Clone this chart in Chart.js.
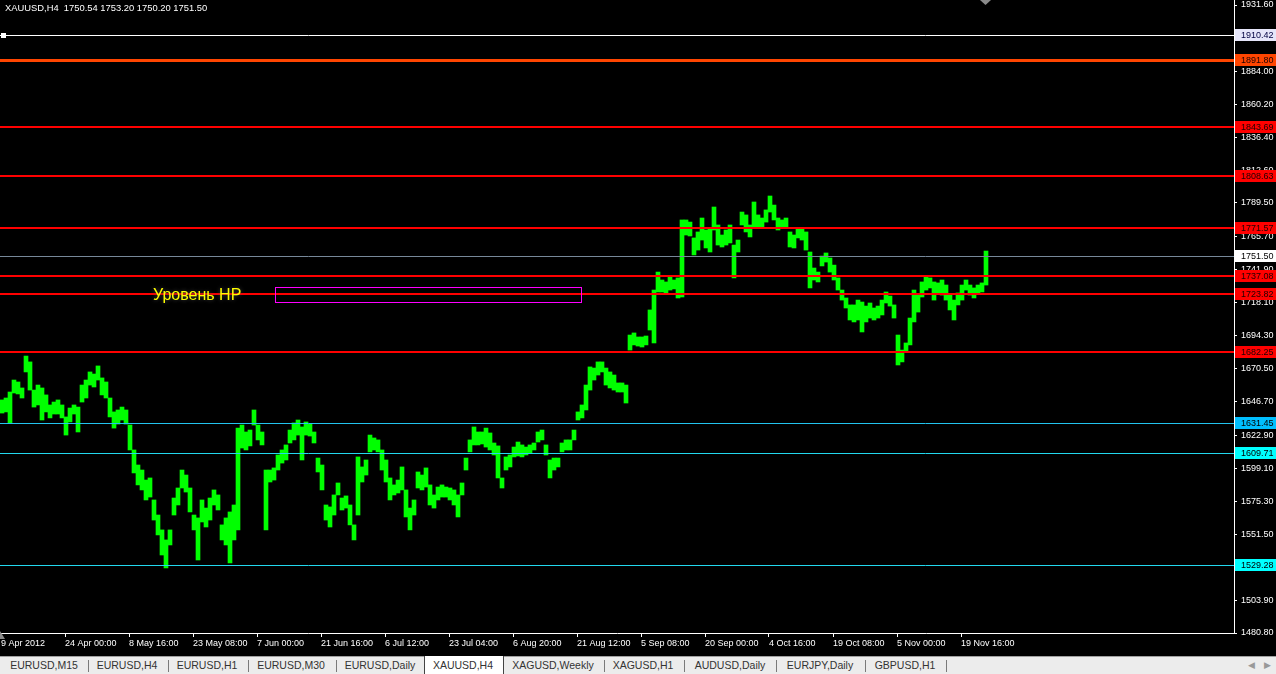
<!DOCTYPE html>
<html>
<head>
<meta charset="utf-8">
<script src="https://cdn.jsdelivr.net/npm/chart.js@4.4.1/dist/chart.umd.min.js"></script>
<style>
  html,body{margin:0;padding:0;background:#000;width:1276px;height:674px;overflow:hidden;font-family:"Liberation Sans",Arial,sans-serif;}
  #wrap{position:absolute;left:0;top:0;width:1276px;height:656px;}
  #tabs{position:absolute;left:0;top:656px;width:1276px;height:18px;background:#ececec;border-top:1px solid #a0a0a0;box-sizing:border-box;}
  .tab{position:absolute;top:0;height:18px;line-height:17px;font-size:10.5px;color:#333;transform:translateX(-50%);white-space:nowrap;}
  .sep{position:absolute;top:3px;width:1px;height:12px;background:#7a7a7a;}
  #active{position:absolute;left:424px;top:-1px;width:80px;height:19px;background:#fff;border-left:1px solid #444;border-right:1px solid #444;box-sizing:border-box;}
  .arr{position:absolute;top:0;line-height:17px;font-size:9px;color:#999;}
</style>
</head>
<body>
<div id="wrap"><canvas id="c" width="1276" height="656"></canvas></div>
<div id="tabs"></div>
<script>
// ---------- data ----------
const symbolTitle = "XAUUSD,H4  1750.54 1753.20 1750.20 1751.50";
const barsPerPoint = 4;
const highs = [
1648.1,1649.5,1653.8,1662.4,1661.0,1656.7,1679.6,1675.4,1655.2,1658.8,
1656.7,1651.7,1644.5,1646.6,1648.1,1644.5,1635.9,1642.3,1644.5,1643.0,
1658.8,1662.4,1668.2,1666.7,1672.5,1663.9,1661.0,1649.5,1639.5,1640.9,
1643.0,1640.9,1630.1,1612.2,1601.4,1597.8,1590.6,1592.1,1576.3,1565.5,
1554.8,1547.6,1554.8,1577.7,1584.9,1597.8,1594.2,1584.9,1565.5,1563.4,
1576.3,1570.5,1577.7,1583.5,1579.9,1558.4,1563.4,1567.7,1572.7,1627.9,
1630.1,1625.1,1626.5,1640.9,1630.1,1625.1,1597.8,1597.8,1599.3,1608.6,
1612.2,1615.8,1626.5,1631.6,1633.7,1628.7,1632.3,1630.8,1625.1,1606.4,
1601.4,1572.7,1571.3,1579.9,1588.5,1577.7,1579.2,1572.7,1558.4,1607.2,
1600.0,1605.0,1622.9,1620.8,1619.4,1612.2,1605.0,1592.1,1587.1,1590.6,
1600.0,1583.5,1570.5,1576.3,1596.4,1594.2,1599.3,1587.1,1579.9,1585.6,
1587.1,1585.6,1584.9,1583.5,1579.9,1588.5,1606.4,1619.4,1628.7,1625.1,
1625.1,1627.9,1624.4,1617.2,1615.1,1592.1,1607.2,1608.6,1614.3,1617.9,
1615.8,1614.3,1615.8,1617.2,1625.1,1626.5,1615.8,1605.0,1606.4,1606.4,
1617.2,1619.4,1619.4,1626.5,1639.5,1644.5,1658.8,1671.8,1671.0,1675.4,
1675.4,1671.0,1668.2,1666.0,1660.3,1660.3,1658.8,1694.7,1696.2,1693.3,
1693.3,1694.0,1712.7,1727.0,1739.9,1734.2,1732.8,1736.4,1734.2,1735.7,
1777.3,1777.3,1775.8,1764.4,1768.7,1778.7,1770.1,1771.5,1786.6,1773.7,
1766.5,1770.1,1773.7,1759.3,1762.9,1783.0,1780.9,1773.7,1790.2,1780.9,
1778.7,1784.5,1794.5,1788.0,1778.7,1777.3,1778.7,1768.7,1766.5,1771.5,
1771.5,1768.7,1754.3,1742.8,1739.9,1751.4,1753.6,1750.0,1744.9,1735.7,
1727.0,1721.3,1716.3,1716.3,1719.8,1718.4,1715.5,1717.7,1714.1,1715.5,
1719.8,1725.6,1722.7,1716.3,1694.7,1683.9,1689.0,1706.9,1727.0,1723.4,
1732.8,1736.4,1735.7,1732.8,1732.1,1734.2,1730.6,1723.4,1719.8,1724.9,
1730.6,1734.2,1730.6,1728.5,1730.6,1732.1,1755.0
];
const lows = [
1638.7,1639.5,1631.6,1653.1,1652.4,1649.5,1668.2,1655.2,1643.0,1644.5,
1633.7,1639.5,1635.2,1638.0,1638.0,1635.2,1622.9,1632.3,1638.0,1625.1,
1646.6,1649.5,1658.8,1657.4,1662.4,1651.7,1649.5,1635.9,1627.9,1630.8,
1633.7,1630.8,1612.2,1595.7,1587.1,1583.5,1576.3,1578.4,1561.9,1551.2,
1536.8,1527.5,1544.0,1565.5,1572.7,1584.9,1582.0,1567.7,1554.8,1533.2,
1560.5,1556.9,1561.9,1572.7,1569.1,1547.6,1544.0,1531.1,1547.6,1554.8,
1613.6,1612.2,1615.1,1630.1,1619.4,1615.8,1554.8,1589.2,1590.6,1597.8,
1602.8,1605.0,1617.2,1619.4,1622.9,1605.0,1622.9,1622.2,1617.2,1596.4,
1583.5,1561.9,1556.9,1565.5,1579.9,1569.1,1570.5,1558.4,1547.6,1565.5,
1589.2,1594.2,1610.8,1612.2,1610.8,1597.8,1589.2,1576.3,1579.9,1581.3,
1583.5,1564.1,1554.8,1565.5,1584.9,1583.5,1585.6,1572.7,1570.5,1576.3,
1578.4,1578.4,1576.3,1572.7,1564.1,1579.9,1597.8,1610.8,1615.8,1615.8,
1616.5,1614.3,1612.2,1608.6,1592.1,1584.9,1597.8,1600.0,1607.2,1607.9,
1607.2,1608.6,1610.0,1612.2,1617.9,1619.4,1608.6,1592.1,1597.8,1600.0,
1610.8,1612.2,1612.2,1619.4,1633.7,1635.2,1640.9,1655.2,1662.4,1666.0,
1668.2,1658.8,1656.7,1655.2,1653.8,1653.8,1645.9,1683.9,1687.6,1686.8,
1686.1,1687.6,1698.3,1689.0,1725.6,1725.6,1724.9,1727.0,1727.8,1721.3,
1722.0,1766.5,1765.8,1752.2,1755.7,1762.9,1757.2,1754.3,1770.1,1759.3,
1757.9,1759.3,1760.8,1735.7,1754.3,1773.7,1768.7,1765.1,1772.3,1771.5,
1771.5,1775.8,1783.0,1777.3,1770.1,1771.5,1771.5,1757.9,1757.2,1764.4,
1762.9,1755.7,1728.5,1734.2,1732.8,1744.3,1747.1,1739.9,1734.2,1727.0,
1719.8,1714.1,1705.5,1704.1,1705.5,1696.9,1704.1,1706.9,1705.5,1706.9,
1709.1,1717.7,1715.5,1706.9,1673.2,1675.4,1682.5,1687.6,1704.1,1711.2,
1722.0,1727.0,1728.5,1719.8,1724.2,1723.4,1719.8,1712.7,1705.5,1716.3,
1719.8,1727.0,1723.4,1721.3,1724.9,1725.6,1730.6
];
const dateLabels = ["9 Apr 2012","24 Apr 00:00","8 May 16:00","23 May 08:00","7 Jun 00:00","21 Jun 16:00","6 Jul 12:00","23 Jul 04:00","6 Aug 20:00","21 Aug 12:00","5 Sep 08:00","20 Sep 00:00","4 Oct 16:00","19 Oct 08:00","5 Nov 00:00","19 Nov 16:00"];
const barsPerDateLabel = 64;
const priceTicks = [1931.60,1907.80,1884.00,1860.20,1836.40,1812.60,1789.50,1765.70,1741.90,1718.10,1694.30,1670.50,1646.70,1622.90,1599.10,1575.30,1551.50,1527.70,1503.90,1480.80];
const levelValues = [1910.42,1891.80,1843.69,1808.63,1771.57,1751.50,1737.08,1723.82,1682.25,1631.45,1609.71,1529.28];
const levelKinds  = ["white","orange","red","red","red","price","red","red","red","blue","cyan","cyan"];
const noteText = "Уровень НР";
const notePrice = 1722.7, noteBar = 153;
const boxBars = [275, 581];
const boxPrices = [1728.9, 1718.6];
const tabNames = ["EURUSD,M15","EURUSD,H4","EURUSD,H1","EURUSD,M30","EURUSD,Daily","XAUUSD,H4","XAGUSD,Weekly","XAGUSD,H1","AUDUSD,Daily","EURJPY,Daily","GBPUSD,H1"];

// ---------- styles ----------
const kindStyle = {
  white:{line:"#ffffff",w:1,bg:"#e6e6fa",fg:"#000040"},
  orange:{line:"#ff4500",w:3,bg:"#ff4500",fg:"#200000"},
  red:{line:"#ff0000",w:2,bg:"#ff0000",fg:"#200000"},
  price:{line:"#778899",w:1,bg:"#ffffff",fg:"#000000"},
  blue:{line:"#22c4ee",w:1,bg:"#00bfff",fg:"#000000"},
  cyan:{line:"#22d8ee",w:1,bg:"#00ffff",fg:"#000000"}
};
const FONT = '9px "Liberation Sans", Arial, sans-serif';

// ---------- tabs (HTML) ----------
const tabCenters=[44,127,207,291,380,463,553,643,730,820,905];
const sepX=[88,168,248,336,604,684,776,865,946];
const tabsEl=document.getElementById('tabs');
tabsEl.insertAdjacentHTML('beforeend','<div id="active"></div>');
sepX.forEach(x=>tabsEl.insertAdjacentHTML('beforeend',`<div class="sep" style="left:${x}px"></div>`));
tabNames.forEach((t,i)=>tabsEl.insertAdjacentHTML('beforeend',`<div class="tab" style="left:${tabCenters[i]}px">${t}</div>`));
tabsEl.insertAdjacentHTML('beforeend','<div class="arr" style="left:1248px">&#9664;</div><div class="arr" style="left:1264px">&#9654;</div>');

// ---------- overlay plugin ----------
const overlay = {
  id:'overlay',
  afterDatasetsDraw(chart){
    const {ctx, chartArea:a, scales:{x,y}} = chart;
    ctx.save();
    levelValues.forEach((v,i)=>{
      const s=kindStyle[levelKinds[i]];
      let py=Math.round(y.getPixelForValue(v));
      if(s.w%2===1) py+=0.5;
      ctx.strokeStyle=s.line; ctx.lineWidth=s.w;
      ctx.beginPath(); ctx.moveTo(a.left,py); ctx.lineTo(a.right,py); ctx.stroke();
    });
    // handle on the selected line
    const hy=Math.round(y.getPixelForValue(levelValues[0]));
    ctx.fillStyle="#ffffff"; ctx.fillRect(1,hy-2,5,5);
    // magenta rectangle (edges as 1px fills)
    const rx1=Math.round(x.getPixelForValue(boxBars[0])), rx2=Math.round(x.getPixelForValue(boxBars[1]));
    const ry1=Math.round(y.getPixelForValue(boxPrices[0])), ry2=Math.round(y.getPixelForValue(boxPrices[1]));
    ctx.fillStyle="#ff00ff";
    ctx.fillRect(rx1,ry1,rx2-rx1+1,1);
    ctx.fillRect(rx1,ry2,rx2-rx1+1,1);
    ctx.fillRect(rx1,ry1,1,ry2-ry1+1);
    ctx.fillRect(rx2,ry1,1,ry2-ry1+1);
    // text
    ctx.font='16px "Liberation Sans", Arial, sans-serif';
    ctx.textBaseline='middle'; ctx.textAlign='left';
    ctx.shadowColor='rgba(80,80,80,0.9)'; ctx.shadowBlur=4;
    ctx.fillStyle="#ffff00";
    ctx.fillText(noteText, x.getPixelForValue(noteBar), y.getPixelForValue(notePrice));
    ctx.restore();
  },
  afterDraw(chart){
    const {ctx, chartArea:a, scales:{x,y}} = chart;
    ctx.save();
    ctx.font=FONT; ctx.textBaseline='middle'; ctx.textAlign='left';
    levelValues.forEach((v,i)=>{
      const s=kindStyle[levelKinds[i]];
      const py=Math.round(y.getPixelForValue(v));
      ctx.fillStyle=s.bg; ctx.fillRect(a.right+1,py-6,1276-a.right-1,12);
      ctx.fillStyle=s.fg; ctx.fillText(v.toFixed(2), a.right+7, py+0.5);
    });
    // header
    ctx.fillStyle="#ffffff";
    ctx.font='9.4px "Liberation Sans", Arial, sans-serif';
    ctx.fillText(symbolTitle, 5, 8);
    // shift marker triangle
    ctx.fillStyle="#8a8a8a";
    ctx.beginPath(); ctx.moveTo(980,0); ctx.lineTo(991,0); ctx.lineTo(985.5,5); ctx.closePath(); ctx.fill();
    // bottom-left marker
    ctx.beginPath(); ctx.moveTo(0,631); ctx.lineTo(0,639); ctx.lineTo(5,639); ctx.closePath(); ctx.fill();
    ctx.restore();
  }
};

// ---------- chart ----------
const points = highs.map((h,i)=>({x:i*barsPerPoint+barsPerPoint/2, y:[lows[i],h]}));

new Chart(document.getElementById('c'),{
  type:'bar',
  data:{datasets:[{data:points, backgroundColor:'#00ff00', borderWidth:0, barThickness:4, grouped:false}]},
  options:{
    responsive:false, animation:false,
    layout:{padding:0},
    plugins:{legend:{display:false}, tooltip:{enabled:false}},
    scales:{
      x:{
        type:'linear', min:0, max:1234, offset:false,
        grid:{display:true, offset:false, drawOnChartArea:false, drawTicks:true, tickLength:4, color:'#ffffff'},
        border:{display:true, color:'#ffffff', width:1},
        afterBuildTicks(s){ s.ticks = dateLabels.map((_,k)=>({value:1+k*barsPerDateLabel})); },
        afterFit(s){ s.height=23; s.paddingLeft=0; s.paddingRight=0; },
        ticks:{autoSkip:false, maxRotation:0, minRotation:0, align:'start', padding:1, color:'#ffffff', font:{family:'"Liberation Sans", Arial, sans-serif', size:9},
          callback(v,idx){ return dateLabels[idx]; }}
      },
      y:{
        type:'linear', position:'right', min:1480.8, max:1935.2, beginAtZero:false,
        grid:{display:true, drawOnChartArea:false, drawTicks:true, tickLength:3, color:'#ffffff'},
        border:{display:true, color:'#ffffff', width:1},
        afterBuildTicks(s){ s.ticks = priceTicks.map(v=>({value:v})); },
        afterFit(s){ s.width=42; s.paddingTop=0; s.paddingBottom=0; },
        ticks:{autoSkip:false, crossAlign:'near', padding:4, color:'#ffffff', font:{family:'"Liberation Sans", Arial, sans-serif', size:9},
          callback(v){ return Number(v).toFixed(2); }}
      }
    }
  },
  plugins:[overlay]
});
</script>
</body>
</html>
